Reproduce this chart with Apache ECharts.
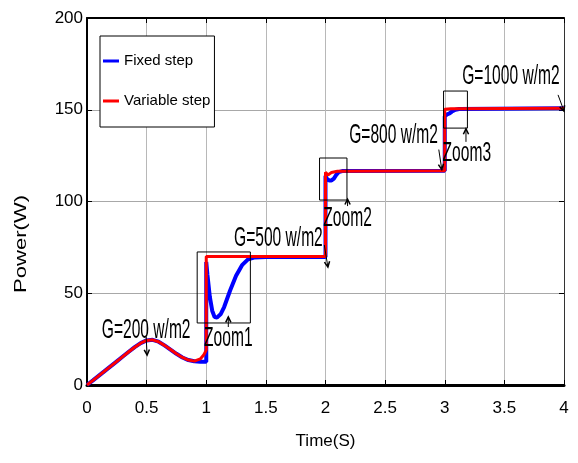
<!DOCTYPE html>
<html><head><meta charset="utf-8">
<script src="https://cdn.jsdelivr.net/npm/echarts@6/dist/echarts.min.js"></script>
<style>html,body{margin:0;padding:0;background:#fff}#c{width:578px;height:463px}</style>
</head><body><div id="c"></div>
<script>
// ---- data ----
const seriesNames = ['Fixed step', 'Variable step'];
const xTickLabels = ['0', '0.5', '1', '1.5', '2', '2.5', '3', '3.5', '4'];
const yTickLabels = ['0', '50', '100', '150', '200'];

const timeFixed = [0, 0.05, 0.1, 0.15, 0.2, 0.25, 0.3, 0.35, 0.4, 0.45, 0.5, 0.55, 0.6, 0.65, 0.7, 0.75, 0.8, 0.85, 0.9, 0.95, 1.0,
  1.0, 1.01, 1.03, 1.05, 1.07, 1.09, 1.12, 1.15, 1.2, 1.25, 1.3, 1.35, 1.4, 1.5, 2.0,
  2.0, 2.01, 2.03, 2.05, 2.07, 2.09, 2.11, 2.14, 3.0,
  3.0, 3.02, 3.04, 3.06, 3.09, 3.12, 4.0];
const powerFixed = [0, 2.5, 5.1, 7.7, 10.3, 12.9, 15.5, 18.1, 20.6, 22.8, 24.3, 24.6, 23.6, 21.6, 19.3, 17.0, 15.0, 13.6, 12.9, 12.7, 12.7,
  67, 60, 48, 40.5, 37, 36.8, 38.5, 42.5, 51.5, 59.5, 65.3, 68.5, 69.5, 69.8, 69.8,
  114, 112.5, 111.5, 111.5, 112.5, 114.5, 116, 116.6, 116.8,
  146.5, 147.5, 148, 149, 150, 150.4, 150.8];

const timeVariable = [0, 0.05, 0.1, 0.15, 0.2, 0.25, 0.3, 0.35, 0.4, 0.45, 0.5, 0.55, 0.6, 0.65, 0.7, 0.75, 0.8, 0.85, 0.9, 0.95, 0.98, 1.0,
  1.0, 2.0,
  2.0, 2.02, 2.05, 2.1, 3.0,
  3.0, 3.05, 4.0];
const powerVariable = [0, 2.5, 5.1, 7.7, 10.3, 12.9, 15.5, 18.1, 20.6, 22.8, 24.3, 24.6, 23.6, 21.6, 19.3, 17.0, 15.0, 13.6, 13.0, 14.2, 16.5, 19,
  70, 70,
  116, 114.5, 115.8, 116.5, 116.8,
  150.3, 150.5, 150.8];

// annotations (data coordinates)
const annoTexts = ['G=200 w/m2', 'G=500 w/m2', 'G=800 w/m2', 'G=1000 w/m2', 'Zoom1', 'Zoom2', 'Zoom3'];
const annoAt = [[0.496, 30.0], [1.605, 80.1], [2.571, 136.2], [3.555, 168.4], [1.185, 25.6], [2.185, 91.0], [3.185, 126.4]];
const arrows = [
  [[0.496, 26.2], [0.504, 16.3]],
  [[1.99, 76.3], [2.02, 64.3]],
  [[2.95, 128.3], [2.975, 117.4]],
  [[3.95, 158.1], [4.0, 149.3]],
  [[1.185, 31.6], [1.185, 37.1]],
  [[2.185, 97.5], [2.185, 101.3]],
  [[3.178, 132.5], [3.178, 139.6]]
];
const zoomBoxes = [[[0.924, 72.5], [1.37, 33.8]], [[1.95, 123.7], [2.18, 100.8]], [[2.99, 160.2], [3.19, 140]]];

const FONT = "'Liberation Sans',Arial,Helvetica,sans-serif";
const chart = echarts.init(document.getElementById('c'));

const mkPairs = (ts, ps) => ts.map((t, i) => [t, ps[i]]);

chart.setOption({
  animation: false,
  backgroundColor: '#fff',
  grid: { left: 87, right: 14, top: 18, bottom: 78, show: false },
  legend: {
    data: seriesNames, orient: 'vertical', left: 100, top: 36,
    padding: [16, 4, 17, 3], itemGap: 22, itemWidth: 16, itemHeight: 3, icon: 'rect',
    backgroundColor: '#fff', borderColor: '#000', borderWidth: 1,
    textStyle: { fontFamily: FONT, fontSize: 15, color: '#000', lineHeight: 18 }
  },
  xAxis: [{
    type: 'value', min: 0, max: 4, interval: 0.5,
    axisLine: { show: true, onZero: false, lineStyle: { color: '#000', width: 3 } },
    axisTick: { show: true, inside: true, length: 5, lineStyle: { color: '#000' } },
    axisLabel: { color: '#000', fontFamily: FONT, fontSize: 17, margin: 15,
      formatter: v => xTickLabels[Math.round(v / 0.5)] },
    splitLine: { show: true, lineStyle: { color: '#b8b8b8', width: 1 } },
    name: 'Time(S)', nameLocation: 'middle', nameGap: 48,
    nameTextStyle: { color: '#000', fontFamily: FONT, fontSize: 17 }
  }, {
    type: 'value', position: 'top', min: 0, max: 4, interval: 0.5,
    axisLine: { show: true, onZero: false, lineStyle: { color: '#000', width: 2 } },
    axisTick: { show: true, inside: true, length: 5, lineStyle: { color: '#000' } },
    axisLabel: { show: false }, splitLine: { show: false }
  }],
  yAxis: [{
    type: 'value', min: 0, max: 200, interval: 50,
    axisLine: { show: true, onZero: false, lineStyle: { color: '#000', width: 2 } },
    axisTick: { show: true, inside: true, length: 5, lineStyle: { color: '#000' } },
    axisLabel: { color: '#000', fontFamily: FONT, fontSize: 17, margin: 4,
      formatter: v => yTickLabels[Math.round(v / 50)] },
    splitLine: { show: true, lineStyle: { color: '#a8a8a8', width: 1 } }
  }, {
    type: 'value', position: 'right', min: 0, max: 200, interval: 50,
    axisLine: { show: true, onZero: false, lineStyle: { color: '#333', width: 1 } },
    axisTick: { show: true, inside: true, length: 5, lineStyle: { color: '#000' } },
    axisLabel: { show: false }, splitLine: { show: false }
  }],
  series: [{
    name: seriesNames[0], type: 'line', showSymbol: false, symbol: 'none',
    data: mkPairs(timeFixed, powerFixed),
    lineStyle: { color: '#0000ff', width: 4 }, itemStyle: { color: '#0000ff' }, z: 3
  }, {
    name: seriesNames[1], type: 'line', showSymbol: false, symbol: 'none',
    data: mkPairs(timeVariable, powerVariable),
    lineStyle: { color: '#ff0000', width: 3 }, itemStyle: { color: '#ff0000' }, z: 4
  }]
});

// annotations converted from data coordinates
const px = p => chart.convertToPixel({ gridIndex: 0 }, p);
const graphics = [];
annoTexts.forEach((t, i) => {
  const c = px(annoAt[i]);
  graphics.push({
    type: 'text', x: c[0], y: c[1], scaleX: 0.82, scaleY: 1.5, z: 100,
    style: { text: t, fill: '#000', fontFamily: FONT, fontSize: 19,
      textAlign: 'center', textVerticalAlign: 'middle', align: 'center', verticalAlign: 'middle' }
  });
});
arrows.forEach(a => {
  const p0 = px(a[0]), p1 = px(a[1]);
  const ang = Math.atan2(p1[1] - p0[1], p1[0] - p0[0]);
  const h = 6, w = 0.45;
  const l = [p1[0] - h * Math.cos(ang - w), p1[1] - h * Math.sin(ang - w)];
  const r = [p1[0] - h * Math.cos(ang + w), p1[1] - h * Math.sin(ang + w)];
  graphics.push({ type: 'polyline', z: 100, shape: { points: [p0, p1] }, style: { stroke: '#000', lineWidth: 1 } });
  graphics.push({ type: 'polyline', z: 100, shape: { points: [l, p1, r] }, style: { stroke: '#000', lineWidth: 1.5, fill: null } });
});
zoomBoxes.forEach(b => {
  const a = px(b[0]), c = px(b[1]);
  graphics.push({ type: 'rect', z: 90, shape: { x: a[0], y: a[1], width: c[0] - a[0], height: c[1] - a[1] },
    style: { stroke: '#000', lineWidth: 1, fill: 'transparent' } });
});
graphics.push({
  type: 'text', x: 21, y: 244, rotation: Math.PI / 2, scaleX: 1.3, z: 100,
  style: { text: 'Power(W)', fill: '#000', fontFamily: FONT, fontSize: 17,
    textAlign: 'center', textVerticalAlign: 'middle', align: 'center', verticalAlign: 'middle' }
});
chart.setOption({ graphic: graphics });
</script>
</body></html>
